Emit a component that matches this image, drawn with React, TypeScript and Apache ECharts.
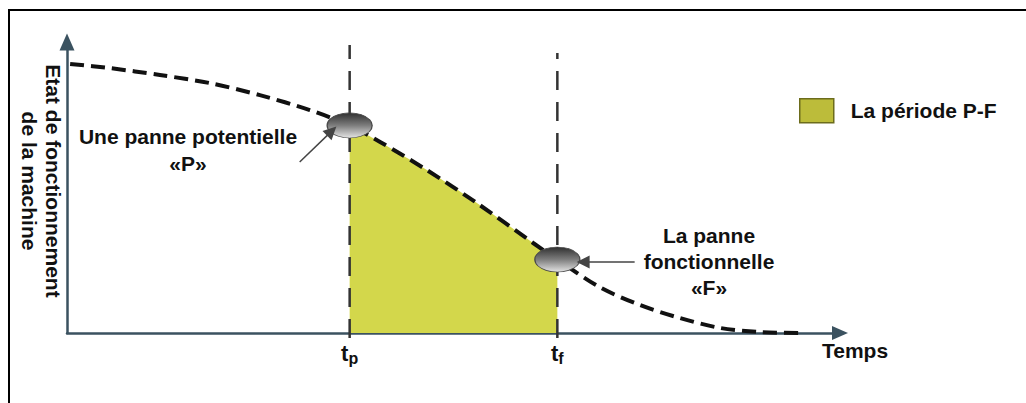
import React, { useEffect, useRef } from 'react';
import * as echarts from 'echarts';

// Curve "Etat de fonctionnement" (time 0..99, state 0..97)
const curveX = [0.4, 5.5, 11.9, 18.3, 24.7, 31.1, 36.2, 40.1, 46.1, 52.5, 59.7, 62.8, 68.2, 73.4, 78.5, 83.6, 88.7, 93.9];
const curveY = [89.7, 88.3, 86.0, 83.3, 79.3, 74.3, 69.2, 63.7, 54.3, 43.3, 30.0, 24.5, 15.3, 9.3, 5.0, 1.7, 0.3, 0];

// Instants of the potential failure (P) and functional failure (F)
const tp = 36.2;
const tf = 62.8;
const tickSubscripts = ['p', 'f'];
const dashBottom = -1.7;
const tpTop = 96;
const tfTop = 93.3;

// Arrow annotations (from, to)
const arrowP = [[29.8, 57], [33.9, 67.3]];
const arrowF = [[72.7, 23.7], [66.1, 23.7]];

const legendName = 'La période P-F';
const yAxisTitle = ['Etat de fonctionnement', 'de la machine'];
const xAxisTitle = 'Temps';
const noteP = ['Une panne potentielle', '«P»'];
const noteF = ['La panne', 'fonctionnelle', '«F»'];

const FONT = '"Liberation Sans", Arial, Helvetica, sans-serif';
const TEXT = '#111111';
const AXIS = '#3b5260';

export default function App() {
  const ref = useRef<HTMLDivElement>(null);

  useEffect(() => {
    if (!ref.current) return;
    const chart = echarts.init(ref.current, undefined, { renderer: 'svg' });

    const curve = curveX.map((x, i) => [x, curveY[i]]);
    const period = curve.filter(([x]) => x >= tp - 1e-6 && x <= tf + 1e-6);
    const yAt = (x: number) => curveY[curveX.findIndex((v) => Math.abs(v - x) < 1e-6)];

    const ellipseFill = new echarts.graphic.LinearGradient(0, 0, 0, 1, [
      { offset: 0, color: '#2f2f2f' },
      { offset: 0.5, color: '#7d7d7d' },
      { offset: 1, color: '#e4e4e4' },
    ]);

    chart.setOption({
      animation: false,
      backgroundColor: '#ffffff',
      grid: { left: 67, top: 42, right: 186, bottom: 70, containLabel: false },
      legend: {
        left: 799,
        top: 98,
        padding: 0,
        itemWidth: 34,
        itemHeight: 24,
        data: [
          {
            name: legendName,
            icon: 'rect',
            itemStyle: { color: '#bcbc3a', borderColor: '#6c6c1c', borderWidth: 1.5 },
          },
        ],
        textStyle: {
          fontFamily: FONT,
          fontSize: 21,
          fontWeight: 'bold',
          color: TEXT,
          padding: [0, 0, 0, 12],
        },
      },
      xAxis: {
        type: 'value',
        min: 0,
        max: 99,
        axisLine: {
          show: true,
          symbol: ['none', 'triangle'],
          symbolSize: [14, 16],
          lineStyle: { color: AXIS, width: 2.5 },
        },
        axisTick: { show: false },
        splitLine: { show: false },
        axisLabel: {
          customValues: [tp, tf],
          margin: 7,
          formatter: (v: number) =>
            '{t|t}{s|' + (Math.abs(v - tp) < 0.01 ? tickSubscripts[0] : tickSubscripts[1]) + '}',
          rich: {
            t: { fontFamily: FONT, fontSize: 22, fontWeight: 'bold', color: TEXT },
            s: { fontFamily: FONT, fontSize: 16, fontWeight: 'bold', color: TEXT, padding: [10, 0, 0, 0] },
          },
        },
      },
      yAxis: {
        type: 'value',
        min: 0,
        max: 97,
        axisLine: {
          show: true,
          symbol: ['none', 'triangle'],
          symbolSize: [15, 17],
          lineStyle: { color: AXIS, width: 2.5 },
        },
        axisTick: { show: false },
        axisLabel: { show: false },
        splitLine: { show: false },
      },
      series: [
        {
          name: legendName,
          type: 'line',
          data: period,
          smooth: 0.3,
          symbol: 'none',
          lineStyle: { width: 0 },
          areaStyle: { color: '#d3d74b', opacity: 1 },
          z: 1,
        },
        {
          name: 'tp',
          type: 'line',
          data: [[tp, dashBottom], [tp, tpTop]],
          symbol: 'none',
          clip: false,
          lineStyle: { color: '#333333', width: 2.5, type: [19, 12] },
          z: 2,
        },
        {
          name: 'tf',
          type: 'line',
          data: [[tf, dashBottom], [tf, tfTop]],
          symbol: 'none',
          clip: false,
          lineStyle: { color: '#333333', width: 2.5, type: [19, 12] },
          z: 2,
        },
        {
          name: 'Etat',
          type: 'line',
          data: curve,
          smooth: 0.3,
          symbol: 'none',
          lineStyle: { color: '#111111', width: 4, type: [14, 7] },
          z: 3,
        },
        {
          name: 'pannes',
          type: 'scatter',
          data: [[tp, yAt(tp)], [tf, yAt(tf)]],
          symbol: 'circle',
          symbolSize: [45, 25],
          itemStyle: { color: ellipseFill, borderColor: '#4a4a4a', borderWidth: 1, opacity: 1 },
          z: 5,
        },
        {
          name: 'fleches',
          type: 'lines',
          coordinateSystem: 'cartesian2d',
          data: [{ coords: arrowP }, { coords: arrowF }],
          symbol: ['none', 'triangle'],
          symbolSize: 13,
          lineStyle: { color: '#444444', width: 1.5, opacity: 1 },
          z: 6,
        },
      ],
      graphic: [
        {
          type: 'rect',
          shape: { x: 9, y: 10, width: 1100, height: 500 },
          style: { fill: 'none', stroke: '#000000', lineWidth: 2 },
          silent: true,
        },
        {
          type: 'text',
          x: 41,
          y: 181,
          rotation: -Math.PI / 2,
          style: {
            text: yAxisTitle.join('\n'),
            fontFamily: FONT,
            fontSize: 21,
            fontWeight: 'bold',
            fill: TEXT,
            align: 'center',
            verticalAlign: 'middle',
            lineHeight: 24,
          },
        },
        {
          type: 'text',
          x: 188,
          y: 149.5,
          style: {
            text: noteP.join('\n'),
            fontFamily: FONT,
            fontSize: 21,
            fontWeight: 'bold',
            fill: TEXT,
            align: 'center',
            verticalAlign: 'middle',
            lineHeight: 27,
          },
        },
        {
          type: 'text',
          x: 709,
          y: 261,
          style: {
            text: noteF.join('\n'),
            fontFamily: FONT,
            fontSize: 21,
            fontWeight: 'bold',
            fill: TEXT,
            align: 'center',
            verticalAlign: 'middle',
            lineHeight: 26,
          },
        },
        {
          type: 'text',
          x: 822,
          y: 350,
          style: {
            text: xAxisTitle,
            fontFamily: FONT,
            fontSize: 21,
            fontWeight: 'bold',
            fill: TEXT,
            align: 'left',
            verticalAlign: 'middle',
          },
        },
      ],
    });

    return () => chart.dispose();
  }, []);

  return (
    <div
      ref={ref}
      style={{ position: 'fixed', left: 0, top: 0, width: 1026, height: 403, background: '#fff' }}
    />
  );
}
